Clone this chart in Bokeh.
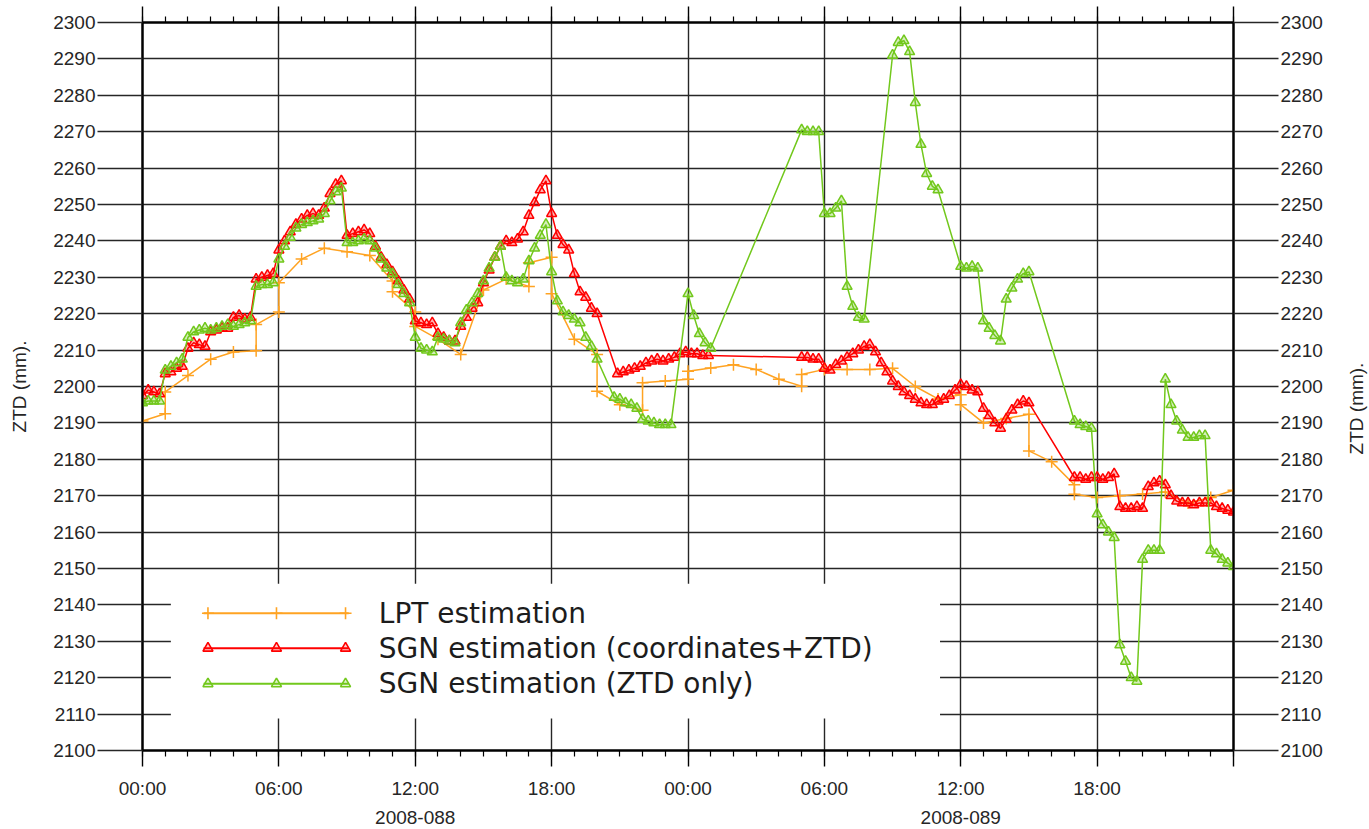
import math

from bokeh.core.properties import value
from bokeh.embed import file_html
from bokeh.layouts import row
from bokeh.models import FixedTicker, LinearAxis, Range1d
from bokeh.plotting import figure
from bokeh.resources import INLINE

# ---------------------------------------------------------------- axes data
x_tick_hours = [0, 6, 12, 18, 24, 30, 36, 42, 48]
x_tick_labels = ["00:00", "06:00", "12:00", "18:00", "00:00", "06:00", "12:00", "18:00", ""]
minor_tick_hours = list(range(0, 49))
day_tick_hours = [12, 36]
day_tick_labels = ["2008-088", "2008-089"]
y_ticks = list(range(2100, 2301, 10))
y_title = "ZTD (mm)."

series_labels = [
    "LPT estimation",
    "SGN estimation (coordinates+ZTD)",
    "SGN estimation (ZTD only)",
]

# ---------------------------------------------------------------- LPT (hourly)
lpt_hours = [0, 1, 1, 2, 3, 4, 5, 5, 6, 6,
             7, 8, 9, 10, 11, 11, 12, 12, 13, 14,
             15, 16, 17, 17, 18, 18, 19, 20, 20, 21,
             22, 22, 23, 24, 24, 25, 26, 27, 28, 29,
             29, 30, 31, 32, 33, 34, 35, 36, 36, 37,
             38, 39, 39, 40, 41, 41, 42, 43, 44, 45,
             46, 47, 48]
lpt_ztd = [2190.5, 2192.5, 2198.5, 2203.0, 2207.5, 2209.5, 2209.8, 2217.0, 2220.5, 2228.5,
           2235.0, 2238.0, 2237.0, 2236.0, 2229.0, 2226.0, 2220.5, 2216.5, 2213.0, 2208.8,
           2226.5, 2229.5, 2227.5, 2234.0, 2235.5, 2225.5, 2213.0, 2208.8, 2198.7, 2195.0,
           2193.5, 2201.0, 2201.5, 2202.0, 2204.2, 2205.1, 2206.0, 2204.7, 2202.0, 2200.1,
           2203.3, 2204.7, 2204.7, 2204.7, 2205.0, 2200.0, 2196.6, 2197.7, 2195.0, 2190.0,
           2191.2, 2192.4, 2182.3, 2179.3, 2173.0, 2170.4, 2169.5, 2170.0, 2170.5, 2171.0,
           2168.0, 2169.5, 2171.5]

# ---------------------------------------------------------------- SGN solutions
# Each continuous run of solutions: start hour + ZTD every 15 minutes.
SAMPLE_STEP = 0.25

sgn_full_starts = [0.0, 20.9, 29.0, 41.0]
sgn_full_ztd = [
    [2197.5, 2199.0, 2198.5, 2198.0,  2203.5, 2204.0, 2205.0, 2205.5,
     2210.5, 2212.0, 2211.5, 2211.0,  2215.0, 2215.5, 2216.0, 2216.0,
     2219.0, 2219.5, 2218.5, 2219.0,  2229.5, 2230.0, 2230.5, 2231.0,
     2237.5, 2240.0, 2242.5, 2244.5,  2246.0, 2247.0, 2247.5, 2247.0,
     2249.0, 2253.0, 2255.5, 2256.5,  2241.5, 2242.0, 2242.5, 2243.0,
     2242.0, 2238.5, 2235.5, 2233.5,  2231.5, 2229.0, 2226.5, 2224.0,
     2218.0, 2217.5, 2217.0, 2217.5,  2214.5, 2213.5, 2212.5, 2212.5,
     2216.5, 2219.0, 2221.5, 2223.0,  2228.5, 2232.0, 2235.5, 2238.5,
     2240.0, 2239.5, 2240.5, 2242.5,  2247.0, 2250.5, 2254.0, 2256.5,
     2247.5, 2241.5, 2239.0, 2237.5,  2231.0, 2226.0, 2224.5, 2221.5,
     2220.0],
    [2203.5, 2204.0, 2204.5, 2205.0, 2205.5, 2206.5, 2207.0, 2207.5, 2207.0,
     2207.5, 2208.0, 2209.0, 2209.5, 2209.0, 2209.0, 2208.5, 2208.5],
    [2208.0, 2208.0, 2207.5, 2207.5,  2205.0, 2204.5, 2206.0, 2207.0,
     2208.0, 2209.0, 2210.0, 2211.0,  2211.5, 2209.5, 2206.5, 2204.0,
     2201.5, 2200.0, 2198.5, 2197.5,  2196.5, 2195.5, 2195.0, 2195.0,
     2196.0, 2196.5, 2197.5, 2199.0,  2200.5, 2200.0, 2199.0, 2198.5,
     2194.0, 2192.0, 2190.0, 2188.5,  2191.0, 2193.5, 2195.0, 2196.0,
     2195.5],
    [2175.0, 2175.0, 2174.5, 2175.0,  2175.0, 2174.5, 2175.0, 2176.0,
     2167.0, 2166.5, 2166.5, 2167.0,  2166.5, 2172.5, 2173.5, 2174.0,
     2173.0, 2170.0, 2168.5, 2168.0,  2168.0, 2167.5, 2168.0, 2168.0,
     2168.0, 2167.0, 2166.5, 2166.0,  2165.5],
]

sgn_ztd_starts = [0.0, 20.75, 24.0, 29.0, 33.0, 36.0, 41.0]
sgn_ztd_ztd = [
    [2195.5, 2196.0, 2196.0, 2196.0,  2204.5, 2205.5, 2206.5, 2207.5,
     2213.5, 2215.0, 2215.5, 2216.0,  2215.5, 2216.0, 2216.5, 2217.0,
     2216.5, 2217.0, 2217.5, 2218.0,  2227.5, 2228.0, 2228.0, 2228.5,
     2235.0, 2238.5, 2241.0, 2243.5,  2244.5, 2245.0, 2245.5, 2246.0,
     2247.5, 2251.0, 2253.5, 2254.5,  2239.5, 2239.5, 2240.0, 2240.5,
     2240.0, 2238.0, 2235.0, 2232.5,  2231.0, 2228.0, 2225.5, 2223.0,
     2213.5, 2210.5, 2210.0, 2209.5,  2213.5, 2213.0, 2212.5, 2212.0,
     2217.5, 2221.0, 2223.0, 2225.5,  2229.0, 2232.5, 2235.5, 2238.5,
     2230.0, 2229.0, 2228.5, 2229.5,  2234.5, 2238.0, 2241.5, 2244.5,
     2231.5, 2223.5, 2220.5, 2219.5,  2218.5, 2217.5, 2213.5, 2211.0,
     2207.5],
    [2197.0, 2196.5, 2195.5, 2195.0, 2194.0, 2191.0, 2190.5, 2190.0,
     2189.5, 2189.5, 2189.5],
    [2225.5, 2219.5, 2214.5, 2212.0, 2210.5],
    [2270.5, 2270.0, 2270.0, 2270.0,  2247.5, 2247.5, 2249.0, 2251.0,
     2227.5, 2222.0, 2219.0, 2218.5],
    [2291.0, 2294.5, 2295.0, 2292.0,  2278.0, 2266.5, 2258.5, 2255.0,
     2254.0],
    [2233.0, 2232.5, 2233.0, 2232.5,  2218.0, 2216.0, 2214.0, 2212.5,
     2224.0, 2227.0, 2229.5, 2231.0,  2231.5],
    [2190.5, 2189.5, 2189.0, 2188.5,  2165.0, 2162.0, 2160.0, 2158.5,
     2129.0, 2124.5, 2120.0, 2119.0,  2152.5, 2155.0, 2155.0, 2155.0,
     2202.0, 2195.0, 2190.5, 2188.0,  2186.0, 2186.0, 2186.5, 2186.5,
     2155.0, 2154.0, 2152.5, 2151.5,  2150.5],
]

# ---------------------------------------------------------------- styling
ORANGE = "#ffa322"
RED = "#ff0000"
GREEN = "#72c81c"
GRID = "#262626"
TEXT = "#262626"
TICK_FONT = "Liberation Sans"
LEGEND_FONT = "DejaVu Sans"
FRAME_W, FRAME_H = 1091, 728
PAGE_H = 829
RIGHT_TITLE_W = 29


def runs_to_points(starts, runs, step=SAMPLE_STEP):
    hours, ztd = [], []
    for start, vals in zip(starts, runs):
        for i, v in enumerate(vals):
            hours.append(round(start + i * step, 3))
            ztd.append(v)
    return hours, ztd


full_hours, full_ztd = runs_to_points(sgn_full_starts, sgn_full_ztd)
zonly_hours, zonly_ztd = runs_to_points(sgn_ztd_starts, sgn_ztd_ztd)

p = figure(
    frame_width=FRAME_W, frame_height=FRAME_H,
    x_range=Range1d(0, 48), y_range=Range1d(2100, 2300),
    output_backend="svg", toolbar_location=None,
    min_border_left=142, min_border_right=107,
    min_border_top=22, min_border_bottom=60,
    background_fill_color="white", border_fill_color="white",
)
p.outline_line_color = "black"
p.outline_line_width = 2

# grid lines
p.xgrid.ticker = FixedTicker(ticks=x_tick_hours)
p.ygrid.ticker = FixedTicker(ticks=y_ticks)
for g in (p.xgrid[0], p.ygrid[0]):
    g.grid_line_color = GRID
    g.grid_line_width = 1.4


def style_time_axis(ax, show_labels):
    ax.ticker = FixedTicker(ticks=x_tick_hours, minor_ticks=minor_tick_hours)
    ax.axis_line_color = "black"
    ax.axis_line_width = 2
    ax.major_tick_in = 0
    ax.major_tick_out = 16
    ax.major_tick_line_color = "black"
    ax.major_tick_line_width = 1.4
    ax.minor_tick_in = 0
    ax.minor_tick_out = 6
    ax.minor_tick_line_color = "black"
    ax.minor_tick_line_width = 1.2
    if show_labels:
        ax.major_label_overrides = {h: lab for h, lab in zip(x_tick_hours, x_tick_labels)}
        ax.major_label_text_font = TICK_FONT
        ax.major_label_text_font_size = "19px"
        ax.major_label_text_color = TEXT
        ax.major_label_standoff = 11
    else:
        # tick marks only along the top edge
        ax.major_label_text_font_size = "2px"
        ax.major_label_text_color = None
        ax.major_label_standoff = 0


def style_ztd_axis(ax, title):
    ax.ticker = FixedTicker(ticks=y_ticks)
    ax.axis_line_color = "black"
    ax.axis_line_width = 2
    ax.major_tick_in = 0
    ax.major_tick_out = 45
    ax.major_tick_line_color = GRID
    ax.major_tick_line_width = 1.4
    ax.minor_tick_line_color = None
    ax.major_label_text_font = TICK_FONT
    ax.major_label_text_font_size = "19px"
    ax.major_label_text_color = TEXT
    ax.major_label_standoff = 2
    if title:
        ax.axis_label = title
        ax.axis_label_text_font = TICK_FONT
        ax.axis_label_text_font_size = "19px"
        ax.axis_label_text_font_style = "normal"
        ax.axis_label_text_color = TEXT
        ax.axis_label_standoff = 20


style_time_axis(p.xaxis[0], True)
top_axis = LinearAxis()
style_time_axis(top_axis, False)
p.add_layout(top_axis, "above")

day_axis = LinearAxis(ticker=FixedTicker(ticks=day_tick_hours, minor_ticks=[]))
day_axis.major_label_overrides = {h: lab for h, lab in zip(day_tick_hours, day_tick_labels)}
day_axis.axis_line_color = None
day_axis.major_tick_line_color = None
day_axis.minor_tick_line_color = None
day_axis.major_tick_out = 0
day_axis.major_tick_in = 0
day_axis.major_label_text_font = TICK_FONT
day_axis.major_label_text_font_size = "19px"
day_axis.major_label_text_color = TEXT
day_axis.major_label_standoff = 9
p.add_layout(day_axis, "below")

style_ztd_axis(p.yaxis[0], y_title)
right_axis = LinearAxis()
style_ztd_axis(right_axis, None)
p.add_layout(right_axis, "right")

# ---------------------------------------------------------------- legend frame
p.extra_x_ranges = {"legend_x": Range1d(0, 1)}
p.extra_y_ranges = {"legend_y": Range1d(0, 1)}
LEG = dict(x_range_name="legend_x", y_range_name="legend_y")
legend_box = (0.026, 0.731, 0.044, 0.229)
legend_row_y = [0.1886, 0.1405, 0.0916]
legend_line_x = (0.056, 0.189)
legend_marker_x = [0.060, 0.1228, 0.1861]
legend_text_x = 0.2166

p.quad(left=[legend_box[0]], right=[legend_box[1]], bottom=[legend_box[2]],
       top=[legend_box[3]], fill_color="white", line_color=None, **LEG)

# ---------------------------------------------------------------- series
series = [
    (lpt_hours, lpt_ztd, ORANGE, "cross", 12),
    (full_hours, full_ztd, RED, "triangle", 10),
    (zonly_hours, zonly_ztd, GREEN, "triangle", 10),
]
for (hrs, ztd, color, marker, size), label, ry in zip(series, series_labels, legend_row_y):
    p.line(hrs, ztd, line_color=color, line_width=1.5)
    p.scatter(hrs, ztd, marker=marker, size=size, line_color=color,
              fill_color=color, fill_alpha=0.3, line_width=1.5)
    # legend entry
    p.line(list(legend_line_x), [ry, ry], line_color=color, line_width=2, **LEG)
    p.scatter(legend_marker_x, [ry] * len(legend_marker_x), marker=marker,
              size=size, line_color=color, fill_color=color, fill_alpha=0.2,
              line_width=1.6, **LEG)
    p.text([legend_text_x], [ry], text=[label], text_font=value(LEGEND_FONT),
           text_font_size="28px", text_baseline="middle", text_align="left",
           text_color="#1c1c1c", **LEG)

# ---------------------------------------------------------------- right-hand title
# a narrow strip beside the chart holding the right y title, read bottom to top
strip = figure(
    frame_width=RIGHT_TITLE_W, frame_height=PAGE_H,
    x_range=Range1d(0, RIGHT_TITLE_W), y_range=Range1d(0, PAGE_H),
    output_backend="svg", toolbar_location=None,
    x_axis_location=None, y_axis_location=None,
    min_border=0, outline_line_color=None,
    background_fill_color="white", border_fill_color="white",
)
strip.xgrid.visible = False
strip.ygrid.visible = False
strip.text([RIGHT_TITLE_W / 2 + 1], [PAGE_H - 22 - FRAME_H / 2], text=[y_title],
           angle=math.pi / 2, text_align="center", text_baseline="middle",
           text_font=value(TICK_FONT), text_font_size="19px", text_color=TEXT)

layout = row(p, strip, spacing=0)
open("out.html", "w").write(file_html(layout, INLINE))
